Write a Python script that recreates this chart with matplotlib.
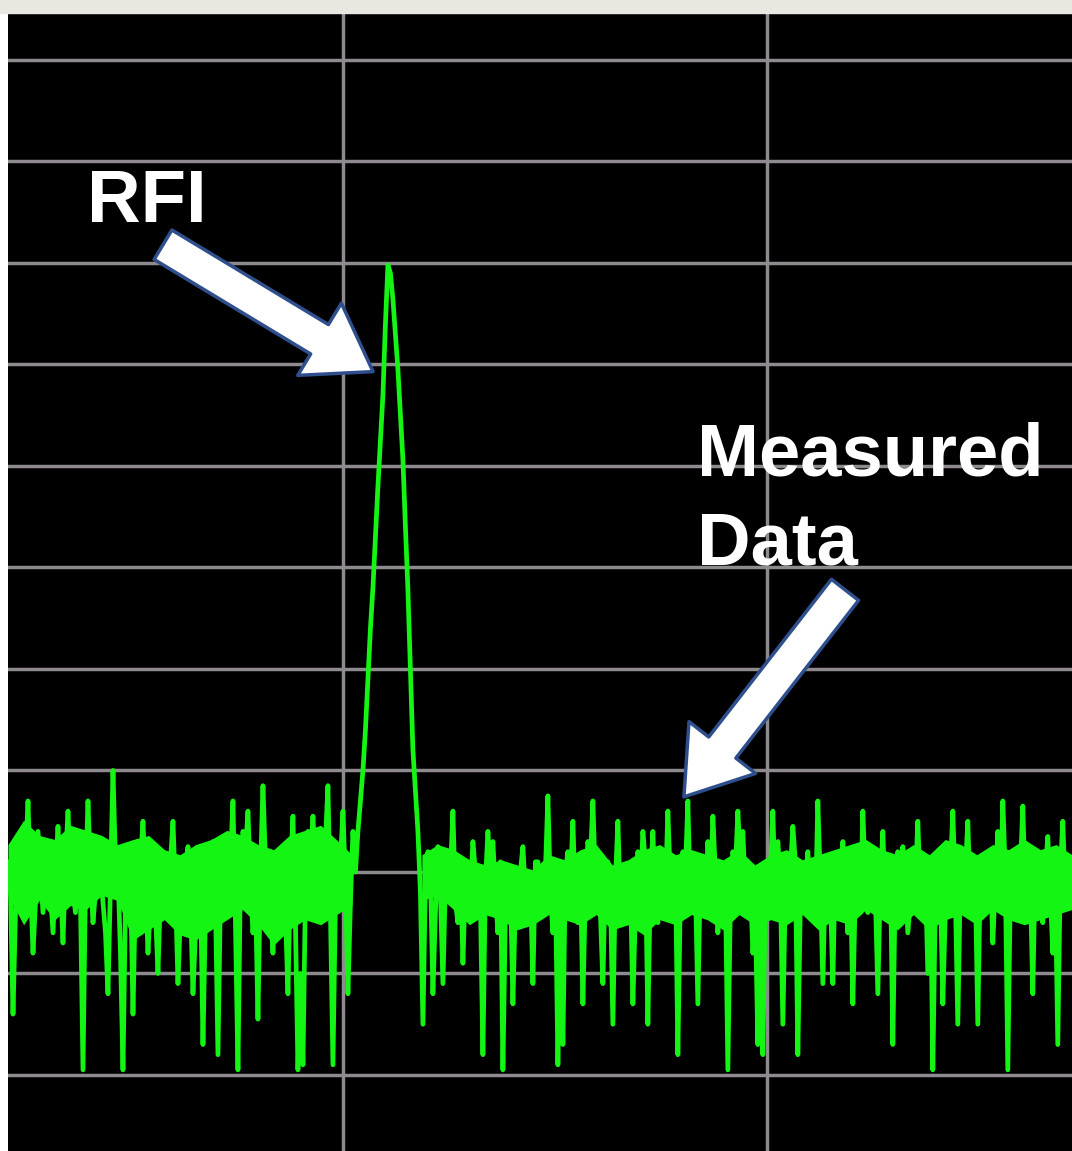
import numpy as np
import matplotlib.pyplot as plt
from matplotlib.patches import Rectangle

# spectrum analyser trace, dB.
# swing points (every other bin)
noise_left = [
    -79, -94, -77, -84, -73, -88, -76, -84, -78, -86,
    -75.5, -87, -74, -82, -79, -99.5, -73, -85, -77, -83,
    -92, -70, -80, -99.5, -78, -94, -77, -75, -88, -80,
    -90, -78, -84, -75, -91, -80, -77.5, -92, -82, -97,
    -79, -77, -98, -78, -84, -73, -99.5, -76, -74, -86,
    -94.5, -71.5, -80, -88, -78, -86, -92, -74.5, -99.5, -99,
    -76, -74.5, -82, -79, -71.5, -99, -80, -74, -92, -76,
]
rfi_peak = [-76, -70, -61, -52, -42, -33, -20.2, -23.6, -30.5, -39.4, -52.2]
noise_right = [
    -68, -76, -95, -78, -92, -77.5, -91, -80, -74, -85,
    -89, -79, -77, -84, -98, -76, -77, -86, -99.5, -80,
    -93, -81, -77.5, -84, -91, -79, -82, -72.5, -86, -99,
    -97, -78, -75, -85, -93, -77, -73, -80, -91, -79,
    -95, -75, -84, -80, -93, -78, -76, -95, -76, -85,
    -80, -74, -82, -98, -78, -73, -83, -93, -80, -77,
    -74.5, -86, -80, -99.5, -78, -74, -76, -84, -88, -97,
    -98, -80, -74, -77, -95, -79, -75.5, -98, -81, -78,
    -84, -73, -91, -79, -91, -80, -77, -86, -93, -80,
    -74, -84, -79, -92, -76, -80, -97, -78, -77.5, -86,
    -80, -75, -84, -90, -99.5, -82, -93, -78, -74, -95,
    -80, -75, -84, -95, -79, -82, -87, -76, -73, -99.5,
    -84, -78, -73.5, -82, -92, -79, -85, -76.5, -88, -97,
    -75, -79,
]
# bins in between (mostly the dense middle of the noise band)
mid_left = [
    -82, -84, -80, -79, -81, -83, -80, -81, -82, -80,
    -81, -79, -80, -84, -83, -81, -80, -82, -80, -86,
    -81, -79, -88, -83, -80, -82, -79, -81, -83, -84,
    -82, -81, -79, -82, -84, -80, -83, -86, -81, -84,
    -80, -83, -82, -81, -79, -85, -80, -78, -81, -82,
    -80, -79, -83, -81, -82, -84, -80, -85, -90, -82,
    -79, -80, -81, -77, -84, -83, -79, -81, -83, -80,
]
mid_peak = [-73, -66, -56, -47, -37.5, -26, -21, -27, -35, -46, -60, -72]
mid_right = [
    -82, -81, -80, -84, -82, -81, -80, -83, -79, -81,
    -82, -80, -83, -81, -80, -82, -79, -84, -81, -83,
    -80, -82, -81, -79, -83, -80, -82, -81, -84, -80,
    -81, -83, -80, -82, -79, -81, -84, -80, -82, -81,
    -83, -80, -81, -84, -82, -79, -81, -83, -80, -82,
    -81, -79, -82, -80, -83, -81, -80, -84, -82, -80,
    -82, -81, -83, -80, -79, -82, -81, -84, -80, -82,
    -80, -83, -81, -82, -80, -79, -83, -81, -82, -84,
    -81, -80, -82, -79, -83, -81, -80, -82, -84, -81,
    -80, -82, -81, -83, -79, -81, -82, -80, -83, -81,
    -82, -80, -79, -83, -81, -84, -80, -82, -81, -80,
    -83, -81, -80, -82, -79, -81, -83, -80, -82, -81,
    -80, -82, -81, -79, -83, -80, -82, -81, -80, -82,
]

# solid core of the noise band (where the trace overlaps itself)
core_left_top = [-77.3, -74.9, -76.4, -76.8, -75.4, -75.9, -76.4, -77.3, -76.8, -76.4,
                 -77.8, -78.3, -77.3, -76.8, -75.9, -76.4, -77.3, -77.8, -76.4, -75.9,
                 -75.4, -76.8, -78.3]
core_left_bot = [-82.3, -85.2, -82.8, -84.7, -83.3, -83.7, -82.3, -82.8, -86.7, -85.7,
                 -84.7, -86.2, -86.7, -85.7, -84.7, -83.7, -85.2, -87.2, -85.7, -84.7,
                 -85.2, -84.2, -83.3]
core_right_top = [-78.3, -77.3, -77.8, -78.8, -79.3, -78.8, -79.3, -79.8, -78.3, -78.8,
                  -77.8, -77.3, -79.3, -78.8, -77.8, -77.3, -78.3, -77.8, -78.3, -78.8,
                  -77.8, -79.3, -78.3, -77.8, -78.8, -78.3, -77.8, -77.3, -76.8, -77.8,
                  -78.3, -77.3, -78.3, -76.8, -77.3, -78.3, -77.3, -77.8, -76.8, -77.8,
                  -77.3, -78.3]
core_right_bot = [-82.8, -82.3, -83.7, -85.2, -84.2, -84.7, -85.7, -85.2, -84.2, -84.7,
                  -85.2, -84.2, -85.7, -85.2, -86.2, -84.7, -85.2, -84.2, -84.7, -85.7,
                  -84.2, -85.2, -84.7, -85.2, -84.2, -85.7, -84.7, -85.2, -83.7, -84.7,
                  -85.7, -84.2, -85.7, -84.7, -84.2, -85.2, -83.7, -84.7, -85.2, -84.7,
                  -84.2, -83.7]

swing = noise_left + rfi_peak + noise_right
mid = mid_left + mid_peak + mid_right
level = np.empty(len(swing) + len(mid))
level[0::2] = swing
level[1::2] = mid

# frequency in screen divisions: first bin and bin step
f_start = -0.7901
f_step = 0.01179 / 2
freq = f_start + f_step * np.arange(len(level))

trace_green = '#14f514'

fig = plt.figure(figsize=(10.72, 11.51), dpi=100, facecolor='white')
fig.patches.append(Rectangle((0, 1 - 13 / 1151), 1, 13 / 1151,
                             transform=fig.transFigure, color='#e8e8e0', zorder=0))
ax = fig.add_axes([8 / 1072, 0, 1 - 8 / 1072, 1 - 13 / 1151])
ax.set_facecolor('black')

# graticule
for lev in range(-100, 1, 10):
    ax.axhline(lev, color='#8e8a8f', lw=2.5, zorder=1)
for div in [0, 1]:
    ax.axvline(div, color='#8e8a8f', lw=2.5, zorder=1)

fl = np.linspace(f_start, 0.021, len(core_left_top))
fr = np.linspace(0.186, 1.7193, len(core_right_top))
ax.fill_between(fl, core_left_bot, core_left_top, color=trace_green, lw=0, zorder=2)
ax.fill_between(fr, core_right_bot, core_right_top, color=trace_green, lw=0, zorder=2)
ax.plot(freq, level, color=trace_green, lw=3.4, zorder=2, solid_joinstyle='round')

ax.set_xlim(-0.7901, 1.7193)
ax.set_ylim(-107.49, 4.63)
ax.set_xticks([])
ax.set_yticks([])
for s in ax.spines.values():
    s.set_visible(False)

font = dict(family=['Liberation Sans', 'DejaVu Sans'], weight='bold',
            color='white', fontsize=53.5, va='baseline', ha='left', zorder=5)
ax.text(-0.603, -15.96, 'RFI', **font)
ax.text(0.836, -40.9, 'Measured', **font)
ax.text(0.836, -49.75, 'Data', **font)

arrow = dict(arrowstyle='simple,head_length=1.0,head_width=1.35,tail_width=0.55',
             fc='white', ec='#2f4f8c', lw=2.5, mutation_scale=45,
             shrinkA=0, shrinkB=0)
ax.annotate('', xy=(0.0708, -30.7), xytext=(-0.4245, -18.2), arrowprops=arrow, zorder=6)
ax.annotate('', xy=(0.804, -72.6), xytext=(1.184, -52.2), arrowprops=arrow, zorder=6)

fig.savefig('out.png', dpi=100, facecolor=fig.get_facecolor())
